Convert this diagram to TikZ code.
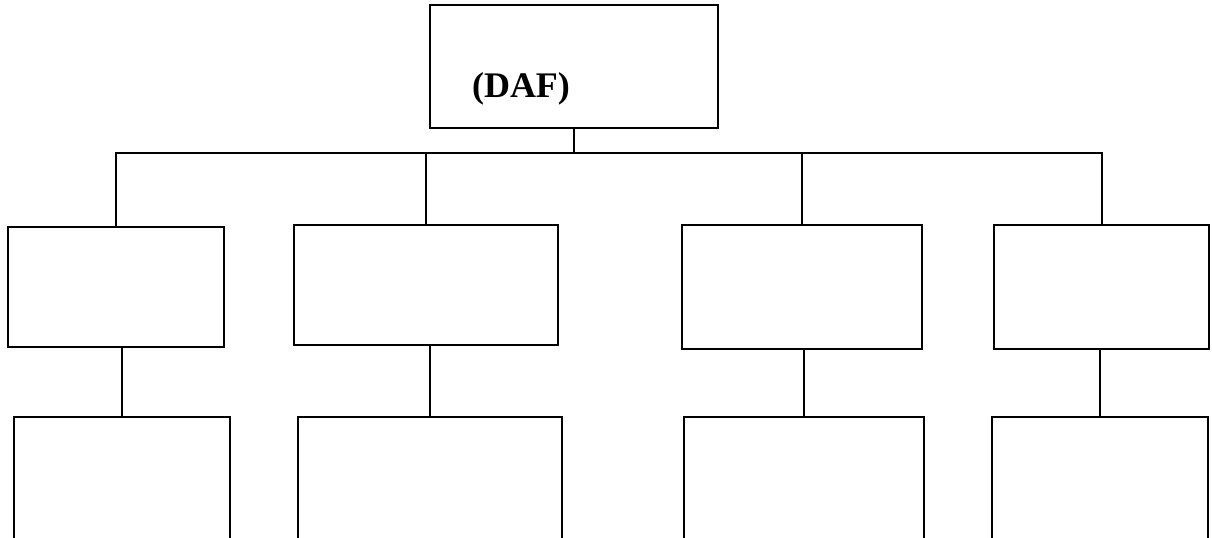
\documentclass[tikz,border=0pt]{standalone}
\usepackage{fontspec}
\setmainfont{Liberation Serif}
\begin{document}
\begin{tikzpicture}[x=0.75pt,y=-0.75pt,
  orgbox/.style={draw=black,line width=1.5pt,rectangle,inner sep=0pt},
  link/.style={draw=black,line width=1.5pt}]
\clip (0,0) rectangle (1212,537);
\fill[white] (0,0) rectangle (1212,537);

% head of the chart
\node[orgbox,minimum width=216pt,minimum height=92.25pt] (top) at (574,66.5) {};
\node[anchor=base,inner sep=0pt,font=\fontsize{27}{30}\selectfont\bfseries] (daf) at (521,97) {(DAF)};

% second level
\node[orgbox,minimum width=162pt,minimum height=90pt] (b1) at (116,287) {};
\node[orgbox,minimum width=198pt,minimum height=90pt] (b2) at (426,285) {};
\node[orgbox,minimum width=180pt,minimum height=93pt] (b3) at (802,287) {};
\node[orgbox,minimum width=161.25pt,minimum height=93pt] (b4) at (1101.5,287) {};

% third level (runs past the lower edge)
\node[orgbox,minimum width=162pt,minimum height=107.25pt] (c1) at (122,488.5) {};
\node[orgbox,minimum width=198pt,minimum height=107.25pt] (c2) at (430,488.5) {};
\node[orgbox,minimum width=180pt,minimum height=107.25pt] (c3) at (804,488.5) {};
\node[orgbox,minimum width=162pt,minimum height=107.25pt] (c4) at (1100,488.5) {};

% bus under the head box
\coordinate (bus) at (574,153);
\draw[link] (top.south) -- (bus);
\draw[link] (b1.north) -- (b1.north |- bus) -- (b4.north |- bus) -- (b4.north);
\draw[link] (b2.north) -- (b2.north |- bus);
\draw[link] (b3.north) -- (b3.north |- bus);

% links to the third level
\draw[link] (c1.north) -- (c1.north |- b1.south);
\draw[link] (c2.north) -- (c2.north |- b2.south);
\draw[link] (c3.north) -- (c3.north |- b3.south);
\draw[link] (c4.north) -- (c4.north |- b4.south);
\end{tikzpicture}
\end{document}
